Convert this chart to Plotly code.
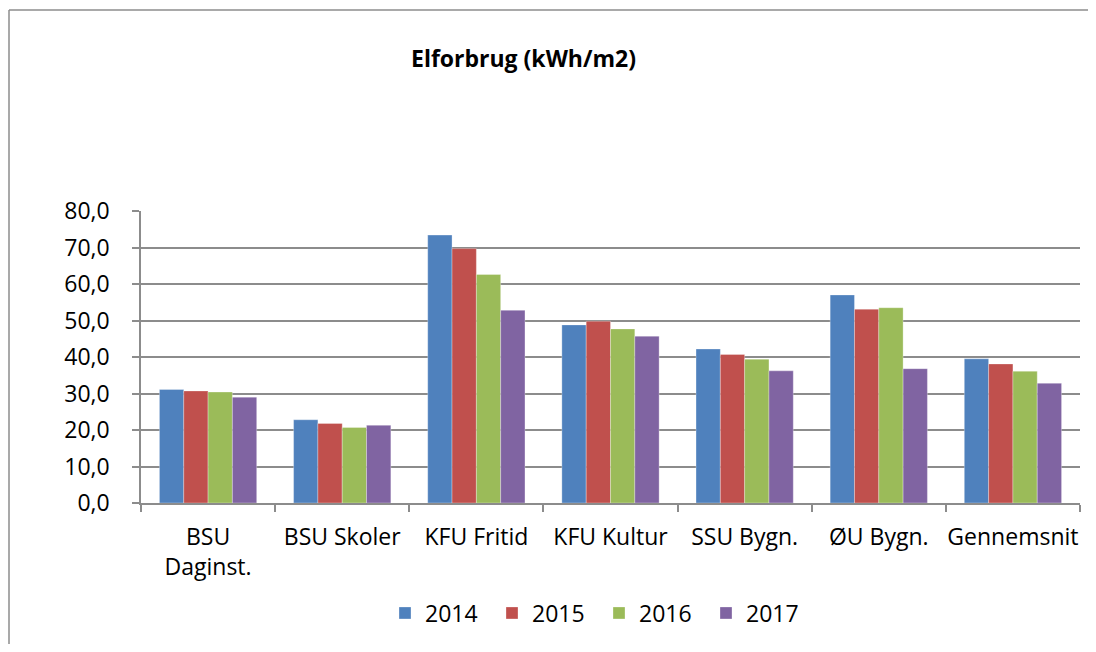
import plotly.graph_objects as go

categories = ["BSU<br>Daginst.", "BSU Skoler", "KFU Fritid", "KFU Kultur", "SSU Bygn.", "ØU Bygn.", "Gennemsnit"]
years = ["2014", "2015", "2016", "2017"]
v2014 = [31.1, 22.8, 73.4, 48.8, 42.2, 57.0, 39.5]
v2015 = [30.7, 21.8, 69.7, 49.8, 40.7, 53.1, 38.1]
v2016 = [30.4, 20.7, 62.6, 47.7, 39.4, 53.5, 36.1]
v2017 = [29.0, 21.3, 52.8, 45.7, 36.2, 36.8, 32.8]
series = [v2014, v2015, v2016, v2017]
colors = ["#4F81BD", "#C0504D", "#9BBB59", "#8064A2"]
ytick_vals = [0, 10, 20, 30, 40, 50, 60, 70, 80]
ytick_text = ["0,0", "10,0", "20,0", "30,0", "40,0", "50,0", "60,0", "70,0", "80,0"]
title_text = "Elforbrug (kWh/m2)"

# page body has an 8px margin; work in screen pixels and shift
OFF = 8
W, H = 1096 - 2 * OFF, 652 - 2 * OFF
# screen-pixel plot box
SX0, SX1, SY0, SY1 = 141, 1080, 211, 503
L, R, T, B = SX0 - OFF, (W + OFF) - SX1, SY0 - OFF, (H + OFF) - SY1

def px_to_paper_x(px):
    return (px - SX0) / (SX1 - SX0)

def px_to_paper_y(py):
    return (SY1 - py) / (SY1 - SY0)

FONT = "Open Sans"

fig = go.Figure()
for name, vals, c in zip(years, series, colors):
    fig.add_trace(go.Bar(
        x=categories, y=vals, name=name,
        marker=dict(color=c, line=dict(color="rgba(255,255,255,0.6)", width=0.5)),
    ))

border = dict(color="#8c8c8c", width=1.5)
fig.update_layout(
    width=W, height=H,
    margin=dict(l=L, r=R, t=T, b=B, pad=0, autoexpand=False),
    paper_bgcolor="white", plot_bgcolor="white",
    barmode="group", bargap=0.275, bargroupgap=0,
    font=dict(family=FONT, size=23, color="black"),
    showlegend=True,
    legend=dict(
        orientation="h", x=px_to_paper_x(599), xanchor="center",
        y=px_to_paper_y(613), yanchor="middle",
        font=dict(family=FONT, size=23, color="black"),
        traceorder="normal", entrywidth=62,
    ),
    annotations=[dict(
        text="<b>" + title_text + "</b>", xref="paper", yref="paper",
        x=px_to_paper_x(523), y=px_to_paper_y(58), xanchor="center", yanchor="middle",
        showarrow=False, font=dict(family=FONT, size=23, color="black"),
    )],
    shapes=[
        dict(type="line", xref="paper", yref="paper",
             x0=px_to_paper_x(9), x1=px_to_paper_x(1100),
             y0=px_to_paper_y(10), y1=px_to_paper_y(10), line=border, layer="below"),
        dict(type="line", xref="paper", yref="paper",
             x0=px_to_paper_x(9), x1=px_to_paper_x(9),
             y0=px_to_paper_y(10), y1=px_to_paper_y(660), line=border, layer="below"),
    ],
)

fig.update_xaxes(
    type="category", showgrid=False, showline=True, linecolor="#8c8c8c", linewidth=1.5,
    ticks="outside", tickson="boundaries", ticklen=7, tickcolor="#8c8c8c", tickwidth=1.5,
    tickangle=0, automargin=False,
    tickfont=dict(family=FONT, size=23, color="black"), ticklabelstandoff=13,
)
fig.update_yaxes(
    range=[0, 80], tickvals=ytick_vals, ticktext=ytick_text,
    showgrid=True, gridcolor="#8c8c8c", gridwidth=1.5,
    showline=True, linecolor="#8c8c8c", linewidth=1.5,
    ticks="outside", ticklen=7, tickcolor="#8c8c8c", tickwidth=1.5,
    automargin=False,
    tickfont=dict(family=FONT, size=23, color="black"), ticklabelstandoff=18,
    zeroline=False,
)

fig.write_html("out.html")
